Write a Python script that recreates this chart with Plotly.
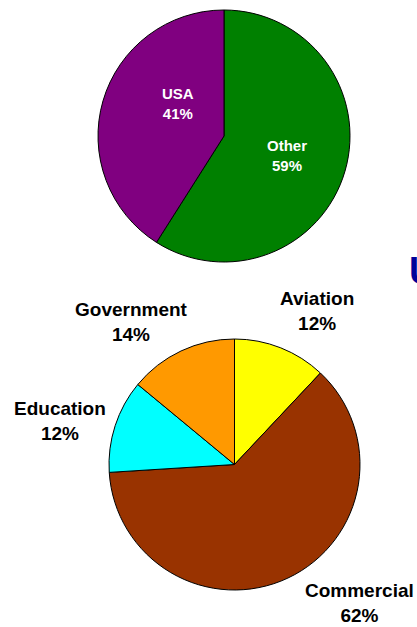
import plotly.graph_objects as go

# Upper pie: share by region
region_labels = ["Other", "USA"]
region_values = [59, 41]
region_colors = ["#008000", "#800080"]

# Lower pie: share by sector
sector_labels = ["Aviation", "Commercial", "Education", "Government"]
sector_values = [12, 62, 12, 14]
sector_colors = ["#FFFF00", "#993300", "#00FFFF", "#FF9900"]

W, H = 417, 627

# label anchor positions in pixels (x from left, y from top)
region_label_pos = [(287, 155), (178, 103)]
sector_label_pos = [(317, 311), (359, 603), (60, 421), (131, 322)]

fig = go.Figure()

fig.add_trace(go.Pie(
    labels=region_labels, values=region_values,
    marker=dict(colors=region_colors, line=dict(color="#000000", width=1)),
    sort=False, direction="clockwise", rotation=0,
    textinfo="none", hoverinfo="label+percent", showlegend=False,
    domain=dict(x=[98 / W, 350 / W], y=[1 - 262 / H, 1 - 10 / H]),
))

fig.add_trace(go.Pie(
    labels=sector_labels, values=sector_values,
    marker=dict(colors=sector_colors, line=dict(color="#000000", width=1)),
    sort=False, direction="clockwise", rotation=0,
    textinfo="none", hoverinfo="label+percent", showlegend=False,
    domain=dict(x=[109 / W, 360 / W], y=[1 - 590 / H, 1 - 339 / H]),
))

annotations = []
for lab, val, (px, py) in zip(region_labels, region_values, region_label_pos):
    annotations.append(dict(
        x=px / W, y=1 - py / H, xref="paper", yref="paper",
        text=f"<b>{lab}</b><br><b>{val}%</b>", showarrow=False,
        xanchor="center", yanchor="middle",
        font=dict(family="Liberation Sans, Arial, sans-serif", size=15, color="#FFFFFF"),
    ))
for lab, val, (px, py) in zip(sector_labels, sector_values, sector_label_pos):
    annotations.append(dict(
        x=px / W, y=1 - py / H, xref="paper", yref="paper",
        text=f"<b>{lab}</b><br><b>{val}%</b>", showarrow=False,
        xanchor="center", yanchor="middle",
        font=dict(family="Liberation Sans, Arial, sans-serif", size=19, color="#000000"),
    ))

# heading text running off the right edge
annotations.append(dict(
    x=407 / W, y=1 - 271 / H, xref="paper", yref="paper",
    text="<b>U</b>", showarrow=False, xanchor="left", yanchor="middle",
    font=dict(family="Liberation Sans, Arial, sans-serif", size=38, color="#000099"),
))

fig.update_layout(
    width=W, height=H,
    margin=dict(l=0, r=0, t=0, b=0),
    paper_bgcolor="#FFFFFF", plot_bgcolor="#FFFFFF",
    annotations=annotations,
)

fig.write_html("out.html")
